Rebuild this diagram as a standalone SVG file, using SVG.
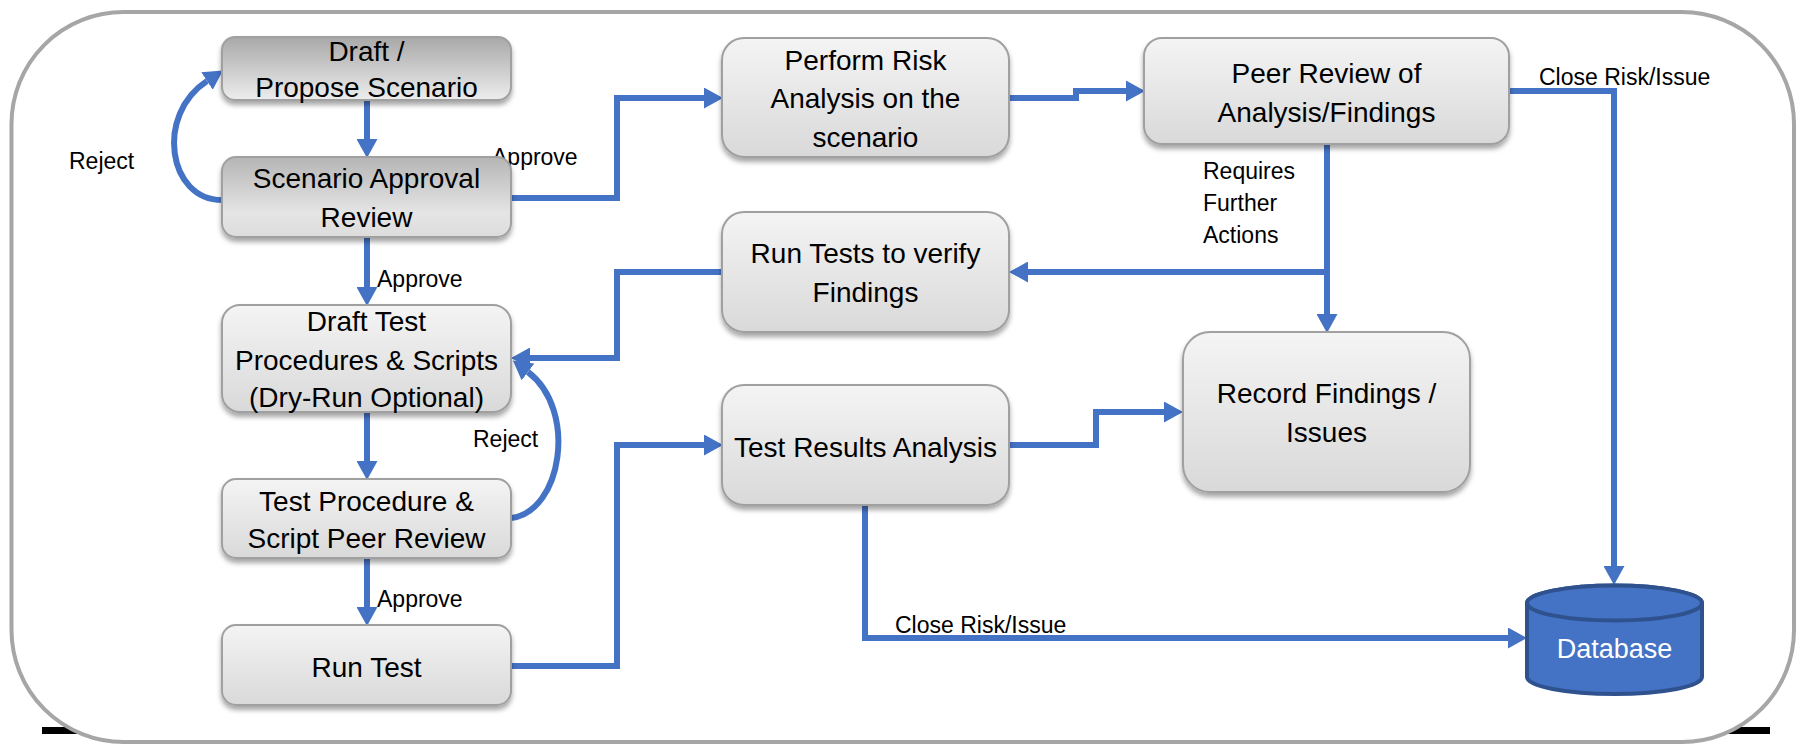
<svg xmlns="http://www.w3.org/2000/svg" width="1801" height="744" viewBox="0 0 1801 744">
<defs>
<linearGradient id="gDark" x1="0" y1="0" x2="0" y2="1"><stop offset="0" stop-color="#a8a8a8"/><stop offset="1" stop-color="#ededed"/></linearGradient>
<linearGradient id="gMid" x1="0" y1="0" x2="0" y2="1"><stop offset="0" stop-color="#b5b5b5"/><stop offset="0.7" stop-color="#e5e5e5"/><stop offset="1" stop-color="#dcdcdc"/></linearGradient>
<linearGradient id="gLight" x1="0" y1="0" x2="0" y2="1"><stop offset="0" stop-color="#f4f4f4"/><stop offset="1" stop-color="#d9d9d9"/></linearGradient>
<filter id="sh" x="-10%" y="-10%" width="120%" height="130%"><feDropShadow dx="0" dy="4" stdDeviation="2.5" flood-color="#000" flood-opacity="0.35"/></filter>
<marker id="ah" markerUnits="userSpaceOnUse" markerWidth="19" markerHeight="21" refX="0" refY="10.5" orient="auto"><path d="M0,0 L19,10.5 L0,21 z" fill="#4472c4"/></marker>
<style>
.box{stroke:#a0a0a0;stroke-width:2;filter:url(#sh)}
.nt{font-family:"Liberation Sans",Arial,sans-serif;font-size:28px;fill:#000;text-anchor:middle}
.lb{font-family:"Liberation Sans",Arial,sans-serif;font-size:23px;fill:#000}
.cn{fill:none;stroke:#4472c4;stroke-width:6;stroke-linejoin:miter;stroke-linecap:butt}
.ca{marker-end:url(#ah)}
</style>
</defs>
<rect x="0" y="0" width="1801" height="744" fill="#fff"/>
<line x1="42" y1="730.5" x2="1770" y2="730.5" stroke="#000" stroke-width="7"/>
<rect id="frame" x="11.5" y="12" width="1782.5" height="730" rx="112" ry="112" fill="#fff" stroke="#a6a6a6" stroke-width="4"/>

<g id="connectors">
<path class="cn ca" d="M367,100 L367,139"/>
<path class="cn ca" d="M367,237 L367,287"/>
<path class="cn ca" d="M367,412 L367,461"/>
<path class="cn ca" d="M367,558 L367,607"/>
<path class="cn ca" d="M222,200 C168,200 155,115 207,81"/>
<path class="cn ca" d="M511,518 C562,512 578,410 528,372"/>
<path class="cn ca" d="M511,198 L617,198 L617,98 L704,98"/>
<path class="cn ca" d="M1009,98 L1076,98 L1076,91 L1126,91"/>
<path class="cn ca" d="M1509,91 L1614,91 L1614,566"/>
<path class="cn ca" d="M1327,144 L1327,314"/>
<path class="cn ca" d="M1327,272 L1028,272"/>
<path class="cn ca" d="M722,272 L617,272 L617,358 L530,358"/>
<path class="cn ca" d="M511,666 L617,666 L617,445 L704,445"/>
<path class="cn ca" d="M1009,445 L1096,445 L1096,412 L1164,412"/>
<path class="cn ca" d="M865,505 L865,638 L1508,638"/>
</g>

<g id="labels">
<text class="lb" x="69" y="169">Reject</text>
<text class="lb" x="492" y="165">Approve</text>
<text class="lb" x="377" y="287">Approve</text>
<text class="lb" x="473" y="447">Reject</text>
<text class="lb" x="377" y="607">Approve</text>
<text class="lb" x="1203" y="179">Requires</text>
<text class="lb" x="1203" y="211">Further</text>
<text class="lb" x="1203" y="243">Actions</text>
<text class="lb" x="1539" y="85">Close Risk/Issue</text>
<text class="lb" x="895" y="633">Close Risk/Issue</text>
</g>

<g id="n-draft">
<rect class="box" x="222" y="37" width="289" height="63" rx="13" fill="url(#gDark)"/>
<text class="nt" x="366.5" y="61">Draft /</text>
<text class="nt" x="366.5" y="97">Propose Scenario</text>
</g>
<g id="n-approval">
<rect class="box" x="222" y="157" width="289" height="80" rx="14" fill="url(#gMid)"/>
<text class="nt" x="366.5" y="188">Scenario Approval</text>
<text class="nt" x="366.5" y="227">Review</text>
</g>
<g id="n-drafttest">
<rect class="box" x="222" y="305" width="289" height="107" rx="18" fill="url(#gLight)"/>
<text class="nt" x="366.5" y="331">Draft Test</text>
<text class="nt" x="366.5" y="370">Procedures &amp; Scripts</text>
<text class="nt" x="366.5" y="407">(Dry-Run Optional)</text>
</g>
<g id="n-peerproc">
<rect class="box" x="222" y="479" width="289" height="79" rx="14" fill="url(#gLight)"/>
<text class="nt" x="366.5" y="511">Test Procedure &amp;</text>
<text class="nt" x="366.5" y="548">Script Peer Review</text>
</g>
<g id="n-runtest">
<rect class="box" x="222" y="625" width="289" height="80" rx="14" fill="url(#gLight)"/>
<text class="nt" x="366.5" y="677">Run Test</text>
</g>
<g id="n-risk">
<rect class="box" x="722" y="38" width="287" height="119" rx="22" fill="url(#gLight)"/>
<text class="nt" x="865.5" y="70">Perform Risk</text>
<text class="nt" x="865.5" y="108">Analysis on the</text>
<text class="nt" x="865.5" y="147">scenario</text>
</g>
<g id="n-runtests">
<rect class="box" x="722" y="212" width="287" height="120" rx="22" fill="url(#gLight)"/>
<text class="nt" x="865.5" y="263">Run Tests to verify</text>
<text class="nt" x="865.5" y="302">Findings</text>
</g>
<g id="n-results">
<rect class="box" x="722" y="385" width="287" height="120" rx="22" fill="url(#gLight)"/>
<text class="nt" x="865.5" y="457">Test Results Analysis</text>
</g>
<g id="n-peer">
<rect class="box" x="1144" y="38" width="365" height="106" rx="18" fill="url(#gLight)"/>
<text class="nt" x="1326.5" y="83">Peer Review of</text>
<text class="nt" x="1326.5" y="122">Analysis/Findings</text>
</g>
<g id="n-record">
<rect class="box" x="1183" y="332" width="287" height="160" rx="27" fill="url(#gLight)"/>
<text class="nt" x="1326.5" y="403">Record Findings /</text>
<text class="nt" x="1326.5" y="442">Issues</text>
</g>
<g id="n-db">
<path d="M1527,603 L1527,677 A87.5,17 0 0 0 1702,677 L1702,603 A87.5,17.5 0 0 0 1527,603 z" fill="#4472c4" stroke="#2f528f" stroke-width="4"/>
<ellipse cx="1614.5" cy="603" rx="87.5" ry="17.5" fill="#4472c4" stroke="#2f528f" stroke-width="4"/>
<text x="1614.5" y="658" font-family="Liberation Sans, Arial, sans-serif" font-size="27" fill="#fff" text-anchor="middle">Database</text>
</g>
</svg>
